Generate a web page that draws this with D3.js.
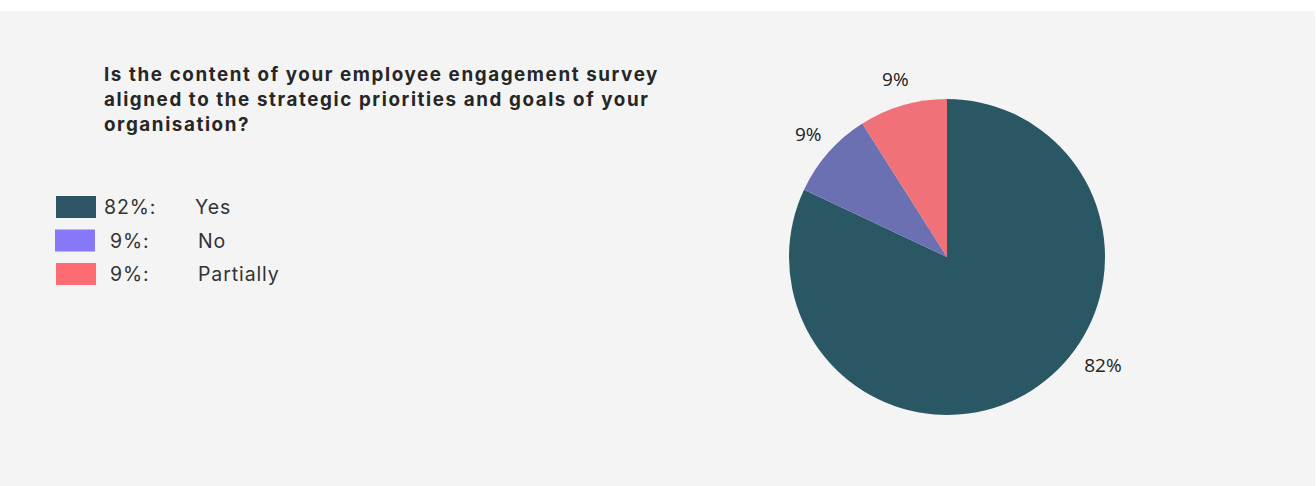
<!DOCTYPE html>
<html>
<head>
<meta charset="utf-8">
<script src="https://cdn.jsdelivr.net/npm/d3@7"></script>
<style>
  body { margin: 0; background: #ffffff; }
  .title { font-family: Inter, Lato, sans-serif; font-weight: 700; font-size: 18.8px; fill: #262626; }
  .legend-text { font-family: Inter, Lato, sans-serif; font-size: 19.5px; letter-spacing: 0.9px; fill: #333333; }
  .pie-label { font-family: "Open Sans", sans-serif; font-size: 19px; fill: #222222; }
</style>
</head>
<body>
<svg id="chart"></svg>
<script>
const width = 1316;
const height = 486;

// survey answers
const categories = ["Yes", "No", "Partially"];
const values = [82, 9, 9];
const legendLabels = ["82%:", "9%:", "9%:"];
const pieLabels = ["82%", "9%", "9%"];
const titleLines = [
  "Is the content of your employee engagement survey",
  "aligned to the strategic priorities and goals of your",
  "organisation?"
];

// pie and legend use slightly different tints
const pieColors = d3.scaleOrdinal().domain(categories).range(["#2a5764", "#6b70b3", "#f07278"]);
const legendColors = d3.scaleOrdinal().domain(categories).range(["#2e5565", "#8678f6", "#ff6b72"]);

const svg = d3.select("#chart").attr("width", width).attr("height", height);

// light panel under a white strip
svg.append("rect")
  .attr("x", 0).attr("y", 11)
  .attr("width", width - 1).attr("height", height - 11)
  .attr("fill", "#f4f4f4");

drawTitle();
drawLegend();
drawPie();

function drawTitle() {
  let title = svg.append("g").attr("transform", translate(104, 81));
  let lines = title.selectAll("text")
    .data(titleLines)
    .enter()
    .append("text")
    .attr("class", "title")
    .attr("y", (d, i) => i * 25)
    .text(d => d);

  // spread the letters so the first line matches the reference width
  let first = lines.node();
  let spacing = (555 - first.getComputedTextLength()) / titleLines[0].length;
  lines.style("letter-spacing", spacing + "px");
}

function drawLegend() {
  let legend = svg.append("g").attr("id", "legend").attr("transform", translate(56, 196));

  let rows = legend.selectAll("g")
    .data(categories)
    .enter()
    .append("g")
    .attr("transform", (d, i) => translate(0, i * 33.5));

  rows.append("rect")
    .attr("x", (d, i) => i == 1 ? -1 : 0)
    .attr("width", 40)
    .attr("height", 22)
    .attr("fill", d => legendColors(d));

  rows.append("text")
    .attr("class", "legend-text")
    .attr("x", (d, i) => i == 0 ? 48 : 54)
    .attr("y", 18)
    .text((d, i) => legendLabels[i]);

  rows.append("text")
    .attr("class", "legend-text")
    .attr("x", (d, i) => i == 0 ? 139 : 142)
    .attr("y", 18)
    .text(d => d);
}

function drawPie() {
  let cx = 947, cy = 257, r = 158;
  let plot = svg.append("g").attr("id", "pie").attr("transform", translate(cx, cy));

  let pie = d3.pie().sort(null).value(d => d.value);
  let arcs = pie(categories.map((c, i) => ({ name: c, value: values[i], label: pieLabels[i] })));

  let arc = d3.arc().innerRadius(0).outerRadius(r);

  plot.selectAll("path")
    .data(arcs)
    .enter()
    .append("path")
    .attr("d", arc)
    .attr("fill", d => pieColors(d.data.name));

  // large slice label sits off its midpoint, lower right
  let labelAngle = d => d.data.value > 50
    ? d.startAngle + (d.endAngle - d.startAngle) * 0.423
    : (d.startAngle + d.endAngle) / 2;
  let labelRadius = d => d.data.value > 50 ? 190 : 185;

  plot.selectAll("text")
    .data(arcs)
    .enter()
    .append("text")
    .attr("class", "pie-label")
    .attr("text-anchor", "middle")
    .attr("dy", "0.35em")
    .attr("x", d => Math.sin(labelAngle(d)) * labelRadius(d))
    .attr("y", d => -Math.cos(labelAngle(d)) * labelRadius(d))
    .text(d => d.data.label);
}

function translate(x, y) {
  return "translate(" + String(x) + "," + String(y) + ")";
}
</script>
</body>
</html>
